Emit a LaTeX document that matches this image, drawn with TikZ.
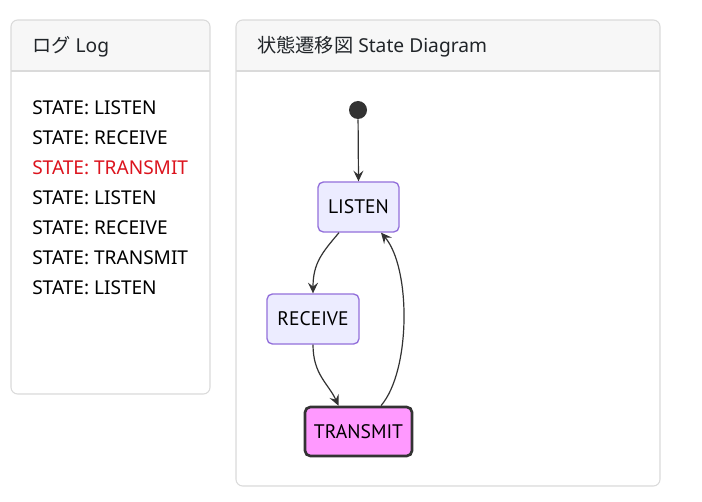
\documentclass[tikz,border=0pt]{standalone}
\usepackage{fontspec}
\setmainfont{Noto Sans}
\newfontfamily\jpfont{Noto Sans CJK JP}
\newfontfamily\nodefont{PT Sans}
\usetikzlibrary{arrows.meta,calc}
\definecolor{panelborder}{RGB}{218,218,218}
\definecolor{hdrfill}{RGB}{247,247,247}
\definecolor{stfill}{RGB}{236,236,255}
\definecolor{stborder}{RGB}{147,112,219}
\definecolor{txfill}{RGB}{255,153,255}
\definecolor{txborder}{RGB}{51,51,51}
\definecolor{edgecol}{RGB}{51,51,51}
\definecolor{logred}{RGB}{220,20,30}
\definecolor{txtcol}{RGB}{33,37,41}
\tikzset{
  hdrtext/.style={anchor=west, inner sep=0pt, text=txtcol, font=\fontsize{14.4}{17}\selectfont},
  logline/.style={anchor=west, inner sep=0pt, text=black, font=\fontsize{14.3}{17}\selectfont},
  statebox/.style={draw=stborder, fill=stfill, line width=1pt, rounded corners=4pt, inner sep=0pt, font=\nodefont\fontsize{14.7}{17}\selectfont, text=black},
  activebox/.style={draw=txborder, fill=txfill, line width=2pt, rounded corners=4pt, inner sep=0pt, font=\nodefont\fontsize{14.7}{17}\selectfont, text=black},
  arr/.style={draw=edgecol, line width=0.9pt, -{Stealth[length=8pt,width=7.5pt,inset=3pt]}},
}
\begin{document}
\begin{tikzpicture}[x=0.75pt,y=-0.75pt]
\useasboundingbox (0,0) rectangle (702,502);
% Log panel
\path[fill=white, rounded corners=5pt] (11,20) rectangle (210,394);
\begin{scope}
  \clip[rounded corners=5pt] (11,20) rectangle (210,394);
  \fill[hdrfill] (11,20) rectangle (210,71);
\end{scope}
\draw[panelborder, line width=0.8pt] (11,71) -- (210,71);
\draw[panelborder, line width=0.8pt, rounded corners=5pt] (11,20) rectangle (210,394);
\node[hdrtext] (loghdr) at (32,47) {{\jpfont ログ} Log};
\node[logline] (l1) at (32,108) {STATE: LISTEN};
\node[logline] (l2) at (32,138) {STATE: RECEIVE};
\node[logline, text=logred] (l3) at (32,168) {STATE: TRANSMIT};
\node[logline] (l4) at (32,198) {STATE: LISTEN};
\node[logline] (l5) at (32,228) {STATE: RECEIVE};
\node[logline] (l6) at (32,258) {STATE: TRANSMIT};
\node[logline] (l7) at (32,288) {STATE: LISTEN};
% State panel
\path[fill=white, rounded corners=5pt] (236,20) rectangle (660,486);
\begin{scope}
  \clip[rounded corners=5pt] (236,20) rectangle (660,486);
  \fill[hdrfill] (236,20) rectangle (660,71);
\end{scope}
\draw[panelborder, line width=0.8pt] (236,71) -- (660,71);
\draw[panelborder, line width=0.8pt, rounded corners=5pt] (236,20) rectangle (660,486);
\node[hdrtext] (sthdr) at (257,47) {{\jpfont 状態遷移図} State Diagram};
% states
\node[circle, fill=edgecol, minimum size=13.5pt, inner sep=0pt] (S) at (358,110) {};
\node[statebox, minimum width=60.75pt, minimum height=37.5pt] (L) at (358.5,207) {LISTEN};
\node[statebox, minimum width=69pt, minimum height=37.5pt] (R) at (313,319) {RECEIVE};
\node[activebox, minimum width=80.25pt, minimum height=36.75pt] (T) at (358.5,431.5) {TRANSMIT};
% transitions
\draw[arr] (S) -- (L.north);
\draw[arr] ($(L.south)+(-19.5,0)$) .. controls +(-17,20) and +(0,-30) .. (R.north);
\draw[arr] (R.south) .. controls +(0,30) and +(-10,-22) .. ($(T.north)+(-20,0)$);
\draw[arr] ($(T.north)+(22.5,0)$) .. controls +(30,-35) and +(30,35) .. ($(L.south)+(22.5,0)$);
\end{tikzpicture}
\end{document}
